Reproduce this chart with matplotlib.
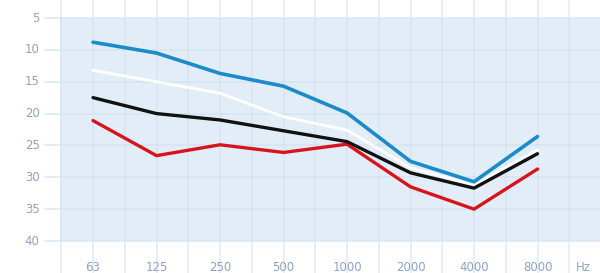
import matplotlib
matplotlib.use("Agg")
import matplotlib.pyplot as plt
import numpy as np

# frequency bands (Hz) and hearing levels
freqs = ['63', '125', '250', '500', '1000', '2000', '4000', '8000']
blue = [8.8, 10.5, 13.7, 15.7, 19.9, 27.5, 30.7, 23.6]
white = [13.2, 15.0, 16.8, 20.5, 22.6, 28.5, 31.2, 25.7]
black = [17.5, 20.0, 21.0, 22.7, 24.4, 29.3, 31.7, 26.3]
red = [21.1, 26.6, 24.9, 26.1, 24.8, 31.5, 35.0, 28.7]
yticks = [5, 10, 15, 20, 25, 30, 35, 40]

panel = '#e3edf8'
grid = '#d2e2f2'
label_col = '#8ea2c8'

fig = plt.figure(figsize=[6, 2.73], dpi=100)
ax = fig.add_axes([0, 0, 1, 1])
ax.set_xlim(-1.465, 7.984)
ax.set_ylim(45.02, 2.175)
ax.axis('off')

x = np.arange(len(freqs))

# light blue panel behind the curves
ax.axvspan(-0.52, 9, ymin=(45.02 - 40) / (45.02 - 2.175),
           ymax=(45.02 - 5) / (45.02 - 2.175), color=panel, lw=0, zorder=0)

# grid: vertical every half band, horizontal at each tick
for gx in np.arange(-0.5, 8.5, 0.5):
    ax.axvline(gx, color=grid, lw=1.1, alpha=0.7, zorder=1)
for gy in yticks:
    ax.plot([-0.756, 9], [gy, gy], color=grid, lw=1.1, alpha=0.8, zorder=1)

# curves
ax.plot(x, red, color='#d7141c', lw=2.4, zorder=3, solid_capstyle='round')
ax.plot(x, black, color='#111111', lw=2.4, zorder=4, solid_capstyle='round')
ax.plot(x, white, color='white', lw=2.0, zorder=3.5, solid_capstyle='round')
ax.plot(x, blue, color='#1b8bc9', lw=2.6, zorder=5, solid_capstyle='round')

# tick labels
for v in yticks:
    ax.text(-0.84, v, str(v), ha='right', va='center', color=label_col,
            fontsize=8.5)
for i, f in enumerate(freqs):
    ax.text(i, 44.1, f, ha='center', va='center', color=label_col,
            fontsize=8.5)
ax.text(7.72, 44.1, 'Hz', ha='center', va='center', color=label_col,
        fontsize=8.5)

fig.savefig('out.png', dpi=100, facecolor='white')
